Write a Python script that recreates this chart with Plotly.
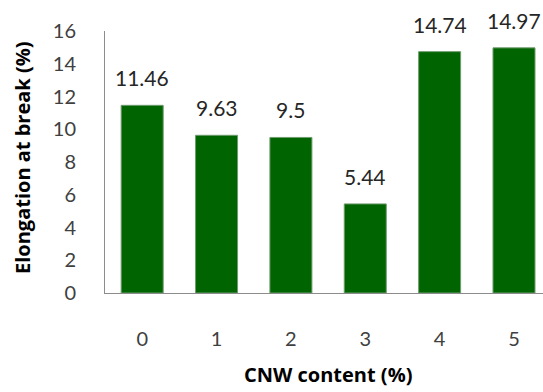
import plotly.graph_objects as go

# CNW loading (%) and measured elongation at break (%)
cnw_content = ["0", "1", "2", "3", "4", "5"]
elongation = [11.46, 9.63, 9.5, 5.44, 14.74, 14.97]
y_ticks = [0, 2, 4, 6, 8, 10, 12, 14, 16]

FONT = "Lato"
TITLE_FONT = "Open Sans"
W, H = 543, 392
L, R, T, B = 105, 0, 31, 99

fig = go.Figure(
    go.Bar(
        x=list(range(len(cnw_content))),
        y=elongation,
        width=0.565,
        marker=dict(color="#006400", line=dict(color="#6f9c6f", width=1)),
        hoverinfo="x+y",
    )
)

# value labels above each bar
for i, v in enumerate(elongation):
    fig.add_annotation(
        x=i, y=v, xref="x", yref="y",
        text=f"{v:g}", showarrow=False,
        yanchor="bottom", yshift=13,
        font=dict(family=FONT, size=21, color="#262626"),
    )

# axis titles
fig.add_annotation(
    text="<b>Elongation at break (%)</b>", textangle=-90,
    xref="paper", yref="paper", x=0, y=0.5, xanchor="center", yanchor="middle",
    xshift=-83, yshift=4, showarrow=False,
    font=dict(family=TITLE_FONT, size=20, color="#000000"),
)
fig.add_annotation(
    text="<b>CNW content (%)</b>",
    xref="x", yref="paper", x=2.5, y=0, xanchor="center", yanchor="middle",
    yshift=-81, showarrow=False,
    font=dict(family=TITLE_FONT, size=20, color="#000000"),
)

fig.update_layout(
    width=W, height=H,
    margin=dict(l=L, r=R, t=T, b=B),
    paper_bgcolor="white", plot_bgcolor="white",
    showlegend=False,
    font=dict(family=FONT, size=20, color="#404040"),
)
fig.update_xaxes(
    range=[-0.5, 5.39],
    tickmode="array", tickvals=list(range(len(cnw_content))), ticktext=cnw_content,
    showline=True, linecolor="#8c8c8c", linewidth=1,
    showgrid=False, zeroline=False, ticks="",
    ticklabelstandoff=28,
    tickfont=dict(family=FONT, size=20, color="#404040"),
)
fig.update_yaxes(
    range=[0, 16],
    tickmode="array", tickvals=y_ticks,
    showline=True, linecolor="#8c8c8c", linewidth=1,
    showgrid=False, zeroline=False, ticks="",
    ticklabelstandoff=24,
    tickfont=dict(family=FONT, size=20, color="#404040"),
)

fig.write_html("out.html")
